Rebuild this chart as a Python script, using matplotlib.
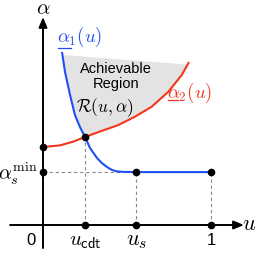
import matplotlib
matplotlib.use("Agg")
import matplotlib.pyplot as plt

plt.rcParams['mathtext.fontset'] = 'cm'
plt.rcParams['font.family'] = ['Liberation Sans', 'DejaVu Sans']

# curves (u, alpha)
blue_u = [0.113, 0.131, 0.161, 0.190, 0.220, 0.250, 0.280, 0.321, 0.351, 0.381, 0.410, 0.440, 0.480, 0.554, 1.0]
blue_a = [1.030, 0.911, 0.774, 0.655, 0.583, 0.524, 0.458, 0.399, 0.368, 0.345, 0.328, 0.319, 0.316, 0.315, 0.315]
red_u = [0.0, 0.101, 0.179, 0.250, 0.349, 0.448, 0.548, 0.647, 0.746, 0.826, 0.869]
red_a = [0.464, 0.474, 0.496, 0.524, 0.560, 0.595, 0.645, 0.704, 0.793, 0.893, 0.970]

# top edge of the grey region
top_u = [0.116, 0.858]
top_a = [1.012, 0.955]

u_cdt = 0.25
u_s = 0.554
a_cross = 0.524
a_min = 0.315
a_red0 = 0.464

xtick_pos = [-0.071, u_cdt, u_s, 1]
xtick_lab = ['0', r'$u_{\mathsf{cdt}}$', r'$u_s$', '1']
xtick_size = [12, 15, 16, 12]

blue = '#1f4ff2'
red = '#f2361c'

fig = plt.figure(figsize=(2.56, 2.56), dpi=100)
ax = fig.add_axes([0, 0, 1, 1])
ax.set_xlim(-43 / 168, 213 / 168)
ax.set_ylim(-31 / 168, 225 / 168)
ax.axis('off')

# grey achievable region
poly = [(top_u[0], top_a[0])]
poly += [(u, a) for u, a in zip(blue_u, blue_a) if top_u[0] < u <= u_cdt]
poly += [(u, a) for u, a in zip(red_u, red_a) if u_cdt < u < top_u[1]]
poly += [(top_u[1], top_a[1])]
ax.fill([p[0] for p in poly], [p[1] for p in poly], color='#e3e3e3', lw=0, zorder=1)

# dashed guides
gd = dict(color='#8a8a8a', lw=0.8, ls=(0, (3, 2.5)), zorder=2)
ax.plot([0, 1], [a_min, a_min], **gd)
for u, a in [(u_cdt, a_cross), (u_s, a_min), (1, a_min)]:
    ax.plot([u, u], [0, a], **gd)

# axes with arrows
ax.annotate('', xy=(1.196, 0), xytext=(-0.196, 0),
            arrowprops=dict(arrowstyle='-|>,head_length=0.6,head_width=0.25', lw=1.4, color='k', shrinkA=0, shrinkB=0), zorder=3)
ax.annotate('', xy=(0, 1.238), xytext=(0, -0.137),
            arrowprops=dict(arrowstyle='-|>,head_length=0.6,head_width=0.25', lw=1.4, color='k', shrinkA=0, shrinkB=0), zorder=3)

# curves
ax.plot(blue_u, blue_a, color=blue, lw=1.5, zorder=4, solid_capstyle='butt')
ax.plot(red_u, red_a, color=red, lw=1.5, zorder=4, solid_capstyle='butt')

# points
px = [0, 0, u_cdt, u_s, 1, u_cdt, u_s, 1]
py = [a_red0, a_min, a_cross, a_min, a_min, 0, 0, 0]
ax.plot(px, py, 'o', color='k', ms=4.5, zorder=5)

# labels
for u, lab, fs in zip(xtick_pos, xtick_lab, xtick_size):
    ax.text(u, -0.119, lab, ha='center', va='baseline', fontsize=fs)
ax.text(1.228, 0, r'$u$', ha='center', va='center', fontsize=16)
ax.text(0, 1.29, r'$\alpha$', ha='center', va='center', fontsize=15)
ax.text(-0.03, a_min - 0.047, r'$\alpha_s^{\rm min}$', ha='right', va='baseline', fontsize=14.5)
ax.text(0.22, 1.119, r'$\alpha_1(u)$', ha='center', va='center', fontsize=13.5, color=blue)
ax.text(0.875, 0.786, r'$\alpha_2(u)$', ha='center', va='center', fontsize=13.5, color=red)
# underlines of the alpha labels
ax.plot([0.089, 0.165], [1.054, 1.054], color=blue, lw=0.9)
ax.plot([0.742, 0.806], [0.744, 0.744], color=red, lw=0.9)
ax.text(0.435, 0.885, 'Achievable\nRegion', ha='center', va='center', fontsize=10.5, linespacing=1.1)
ax.text(0.369, 0.696, r'$\mathcal{R}(u,\alpha)$', ha='center', va='center', fontsize=12.5)

fig.savefig('out.png', dpi=100)
